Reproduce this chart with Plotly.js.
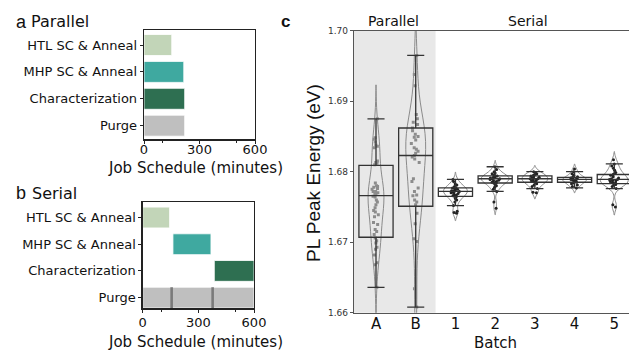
<!DOCTYPE html>
<html>
<head>
<meta charset="utf-8">
<script src="https://cdn.plot.ly/plotly-3.0.1.min.js"></script>
<style>html,body{margin:0;padding:0;background:#fff;}#chart{width:629px;height:351px;}</style>
</head>
<body>
<div id="chart"></div>
<script>
// ---------- data: job schedules (minutes) ----------
const tasks = ['HTL SC & Anneal', 'MHP SC & Anneal', 'Characterization', 'Purge'];
const parallelStart = [0, 0, 0, 0];
const parallelEnd = [150, 215, 220, 220];
const serialStart = [0, 163, 386, 0];
const serialEnd = [145, 368, 600, 600];
const serialPurgeStart = [149, 370];
const serialPurgeEnd = [163, 384];
const scheduleTicks = [0, 300, 600];
const scheduleMinorTicks = [100, 500];

// ---------- data: PL peak energy (eV) per batch ----------
const batches = ['A', 'B', '1', '2', '3', '4', '5'];
const peakA = [1.6875, 1.6848, 1.6846, 1.6842, 1.6838, 1.6836, 1.6834, 1.6815, 1.6813, 1.6812, 1.6810,
  1.6784, 1.6780, 1.6779, 1.6778, 1.6776, 1.6775, 1.6772, 1.6772, 1.6770, 1.6769, 1.6768, 1.6765, 1.6764,
  1.6760, 1.6757, 1.6753, 1.6749, 1.6745, 1.6743, 1.6739, 1.6736, 1.6728, 1.6725, 1.6718, 1.6715, 1.6711,
  1.6706, 1.6702, 1.6699, 1.6693, 1.6690, 1.6682, 1.6671, 1.6668, 1.6636];
const peakB = [1.6965, 1.6938, 1.6922, 1.6881, 1.6875, 1.6870, 1.6867, 1.6862, 1.6858, 1.6853, 1.6850,
  1.6849, 1.6845, 1.6840, 1.6834, 1.6832, 1.6829, 1.6826, 1.6823, 1.6821, 1.6818, 1.6813, 1.6790, 1.6786,
  1.6777, 1.6772, 1.6767, 1.6766, 1.6760, 1.6757, 1.6753, 1.6741, 1.6726, 1.6705, 1.6701, 1.6634, 1.6608];
const peak1 = [1.6789, 1.6786, 1.6783, 1.6781, 1.6779, 1.6778, 1.6777, 1.6777, 1.6776, 1.6775, 1.6774,
  1.6773, 1.6773, 1.6772, 1.6772, 1.6771, 1.6770, 1.6769, 1.6768, 1.6767, 1.6766, 1.6765, 1.6764, 1.6762,
  1.6760, 1.6757, 1.6752, 1.6744, 1.6742, 1.6741];
const peak2 = [1.6807, 1.6803, 1.6800, 1.6798, 1.6797, 1.6795, 1.6794, 1.6794, 1.6793, 1.6792, 1.6791,
  1.6791, 1.6790, 1.6790, 1.6789, 1.6788, 1.6787, 1.6786, 1.6785, 1.6784, 1.6784, 1.6782, 1.6780, 1.6778,
  1.6775, 1.6772, 1.6757, 1.6748];
const peak3 = [1.6800, 1.6799, 1.6797, 1.6796, 1.6795, 1.6794, 1.6793, 1.6792, 1.6791, 1.6790, 1.6790,
  1.6789, 1.6788, 1.6787, 1.6786, 1.6785, 1.6785, 1.6783, 1.6781, 1.6779, 1.6776, 1.6771, 1.6770];
const peak4 = [1.6804, 1.6800, 1.6797, 1.6795, 1.6793, 1.6792, 1.6791, 1.6790, 1.6790, 1.6789, 1.6789,
  1.6788, 1.6787, 1.6786, 1.6785, 1.6784, 1.6783, 1.6781, 1.6779, 1.6777];
const peak5 = [1.6817, 1.6811, 1.6808, 1.6805, 1.6802, 1.6799, 1.6797, 1.6796, 1.6795, 1.6793, 1.6791,
  1.6790, 1.6789, 1.6789, 1.6788, 1.6787, 1.6786, 1.6785, 1.6784, 1.6783, 1.6782, 1.6781, 1.6779, 1.6776,
  1.6753, 1.6750];
const peakData = [peakA, peakB, peak1, peak2, peak3, peak4, peak5];
// box statistics
const boxQ1 = [1.6707, 1.6751, 1.6765, 1.6784, 1.6785, 1.6785, 1.6783];
const boxMedian = [1.6766, 1.6823, 1.6772, 1.6790, 1.6790, 1.6789, 1.6789];
const boxQ3 = [1.6809, 1.6862, 1.6777, 1.6794, 1.6794, 1.6792, 1.6796];
const whiskerLow = [1.6636, 1.6608, 1.6752, 1.6772, 1.6776, 1.6777, 1.6776];
const whiskerHigh = [1.6875, 1.6965, 1.6789, 1.6807, 1.6800, 1.6800, 1.6811];
const peakRange = [1.66, 1.70];

// ---------- styles ----------
const taskColors = ['#c2d5b8', '#3fa9a0', '#2e6f51', '#bfbfbf'];
const purgeMarkColor = '#7a7a7a';
const violinWidths = [0.4, 0.5, 0.6, 0.7, 0.65, 0.6, 0.7];
const FONT = 'DejaVu Sans, sans-serif';

const traces = [];

// panel a: parallel schedule
traces.push({
  type: 'bar', orientation: 'h', xaxis: 'x', yaxis: 'y',
  y: tasks, base: parallelStart, x: parallelEnd.map((e, i) => e - parallelStart[i]),
  width: 0.78,
  marker: {color: taskColors, line: {color: 'rgba(255,255,255,0.8)', width: 1}},
  hoverinfo: 'skip', showlegend: false
});
// panel b: serial schedule
traces.push({
  type: 'bar', orientation: 'h', xaxis: 'x2', yaxis: 'y2',
  y: tasks, base: serialStart, x: serialEnd.map((e, i) => e - serialStart[i]),
  width: 0.78,
  marker: {color: taskColors, line: {color: 'rgba(255,255,255,0.8)', width: 1}},
  hoverinfo: 'skip', showlegend: false
});
traces.push({
  type: 'bar', orientation: 'h', xaxis: 'x2', yaxis: 'y2',
  y: serialPurgeStart.map(() => tasks[3]), base: serialPurgeStart,
  x: serialPurgeEnd.map((e, i) => e - serialPurgeStart[i]),
  width: 0.78,
  marker: {color: purgeMarkColor, line: {width: 0}},
  hoverinfo: 'skip', showlegend: false
});

// panel c: violins with points
peakData.forEach((vals, i) => {
  const parallel = i < 2;
  traces.push({
    type: 'violin', xaxis: 'x3', yaxis: 'y3',
    x0: i, y: vals, name: batches[i],
    width: violinWidths[i],
    line: {color: '#8a8a8a', width: 1},
    fillcolor: 'rgba(0,0,0,0)',
    points: 'all', pointpos: 0, jitter: parallel ? 0.55 : 0.4,
    marker: parallel
      ? {color: '#8c8c8c', size: 3, symbol: 'square'}
      : {color: '#222', size: 3, symbol: 'circle'},
    box: {visible: false}, meanline: {visible: false},
    hoverinfo: 'skip', showlegend: false
  });
});
// panel c: boxes from the statistics
traces.push({
  type: 'box', xaxis: 'x3', yaxis: 'y3',
  x: batches.map((_, i) => i),
  q1: boxQ1, median: boxMedian, q3: boxQ3,
  lowerfence: whiskerLow, upperfence: whiskerHigh,
  width: 0.86, whiskerwidth: 0.5,
  line: {color: '#333', width: 1.3},
  fillcolor: 'rgba(0,0,0,0)',
  boxpoints: false, hoverinfo: 'skip', showlegend: false
});

const schedAxis = (domain, anchor, standoff) => ({
  domain: domain, anchor: anchor, range: [0, 600],
  tickmode: 'array', tickvals: scheduleTicks,
  ticks: 'outside', ticklen: 3, tickwidth: 1, tickcolor: '#222',
  minor: {tickmode: 'array', tickvals: scheduleMinorTicks, ticks: 'outside', ticklen: 2, tickcolor: '#222'},
  ticklabelstandoff: standoff,
  showline: true, mirror: true, linecolor: '#222', linewidth: 1.3,
  showgrid: false, zeroline: false,
  tickfont: {family: FONT, size: 13, color: '#111'}, fixedrange: true
});
const taskAxis = (domain, anchor, range) => ({
  domain: domain, anchor: anchor, type: 'category', categoryarray: tasks,
  range: range,
  ticks: 'outside', ticklen: 3, tickcolor: '#222',
  showline: true, mirror: true, linecolor: '#222', linewidth: 1.3,
  showgrid: false, zeroline: false,
  tickfont: {family: FONT, size: 13, color: '#111'}
});

const W = 629, H = 351;
const layout = {
  width: W, height: H,
  margin: {l: 0, r: 0, t: 0, b: 0},
  paper_bgcolor: '#fff', plot_bgcolor: 'rgba(0,0,0,0)',
  barmode: 'overlay', violinmode: 'overlay', boxmode: 'overlay',
  showlegend: false,
  xaxis: schedAxis([144 / W, 255 / W], 'y', -5),
  yaxis: taskAxis([1 - 139.3 / H, 1 - 30 / H], 'x', [3.506, -0.558]),
  xaxis2: schedAxis([142.7 / W, 254 / W], 'y2', -1),
  yaxis2: taskAxis([1 - 308.3 / H, 1 - 202.3 / H], 'x2', [3.4, -0.57]),
  xaxis3: {
    domain: [354 / W, 1], anchor: 'y3', range: [-0.554, 6.37],
    tickmode: 'array', tickvals: batches.map((_, i) => i), ticktext: batches,
    ticks: '', ticklabelstandoff: -3,
    showline: true, mirror: true, linecolor: '#555', linewidth: 1.2,
    showgrid: false, zeroline: false,
    tickfont: {family: FONT, size: 15, color: '#111'}
  },
  yaxis3: {
    domain: [1 - 312.7 / H, 1 - 30.7 / H], anchor: 'x3', range: peakRange,
    dtick: 0.01, tickformat: '.2f',
    ticks: 'outside', ticklen: 3, tickcolor: '#555',
    showline: true, linecolor: '#555', linewidth: 1.2,
    showgrid: false, zeroline: false,
    tickfont: {family: FONT, size: 9, color: '#333'}
  },
  shapes: [{
    type: 'rect', xref: 'x3', yref: 'y3 domain', x0: -0.554, x1: 1.5, y0: 0, y1: 1,
    fillcolor: '#e8e8e8', line: {width: 0}, layer: 'below'
  }],
  annotations: [
    {text: 'a', x: 14 / W, y: 1 - 22 / H, font: {family: 'Liberation Sans, Arial', size: 18, color: '#111'}},
    {text: 'Parallel', x: 29 / W, y: 1 - 21 / H, font: {family: FONT, size: 16, color: '#111'}},
    {text: 'b', x: 14 / W, y: 1 - 193 / H, font: {family: 'Liberation Sans, Arial', size: 18, color: '#111'}},
    {text: 'Serial', x: 30 / W, y: 1 - 193 / H, font: {family: FONT, size: 16, color: '#111'}},
    {text: '<b>c</b>', x: 279 / W, y: 1 - 22 / H, font: {family: 'Liberation Sans, Arial', size: 17, color: '#111'}},
    {text: 'Job Schedule (minutes)', x: 195 / W, y: 1 - 168 / H, xanchor: 'center', font: {family: FONT, size: 15, color: '#111'}},
    {text: 'Job Schedule (minutes)', x: 195.5 / W, y: 1 - 341.5 / H, xanchor: 'center', font: {family: FONT, size: 15, color: '#111'}},
    {text: 'Parallel', x: 393 / W, y: 1 - 21 / H, xanchor: 'center', font: {family: FONT, size: 14, color: '#111'}},
    {text: 'Serial', x: 528 / W, y: 1 - 21 / H, xanchor: 'center', font: {family: FONT, size: 14, color: '#111'}},
    {text: 'Batch', x: 495 / W, y: 1 - 342.5 / H, xanchor: 'center', font: {family: FONT, size: 15, color: '#111'}},
    {text: 'PL Peak Energy (eV)', x: 313.5 / W, y: 1 - 173.5 / H, xanchor: 'center', textangle: -90,
      font: {family: 'Liberation Sans, Arial', size: 19, color: '#111'}}
  ].map(a => Object.assign({xref: 'paper', yref: 'paper', showarrow: false, xanchor: 'left', yanchor: 'middle'}, a))
};

Plotly.newPlot('chart', traces, layout, {staticPlot: true, displayModeBar: false});
</script>
</body>
</html>
